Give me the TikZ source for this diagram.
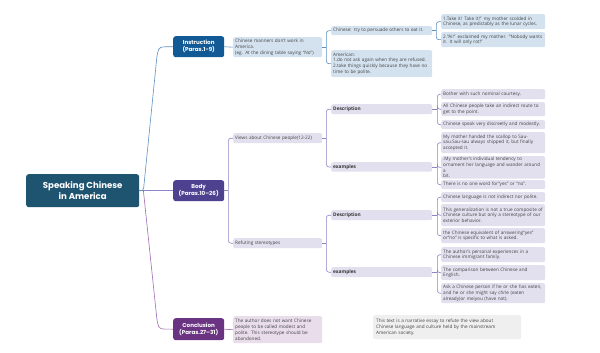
\documentclass[tikz,border=0pt]{standalone}
\usepackage{fontspec}
\setmainfont{Open Sans}
\newfontfamily\headfont{Poppins}
\usetikzlibrary{calc}
\definecolor{rootc}{HTML}{1F5470}
\definecolor{insc}{HTML}{115A96}
\definecolor{bodyc}{HTML}{4E418F}
\definecolor{concc}{HTML}{6B3482}
\definecolor{lblue}{HTML}{D3E2EE}
\definecolor{lpurp}{HTML}{E2E0EE}
\definecolor{lconc}{HTML}{E9DDEC}
\definecolor{lsumm}{HTML}{EFEFF0}
\definecolor{lnblue}{HTML}{5D8FC0}
\definecolor{lnpurp}{HTML}{8D85C5}
\definecolor{lnconc}{HTML}{A06AB0}
\definecolor{txt}{HTML}{444444}
\tikzset{
  base/.style={anchor=north west, rounded corners=2pt, inner xsep=2pt, inner ysep=0.8pt, align=left, text=txt, font=\fontsize{4.65}{5.75}\selectfont},
  leafB/.style={base, fill=lblue},
  leafP/.style={base, fill=lpurp},
  leafC/.style={base, fill=lconc},
  leafS/.style={base, fill=lsumm, inner xsep=3pt},
  lev2/.style={text width=85pt},
  lev3/.style={text width=97pt},
  lev4/.style={text width=100pt},
  subhead/.style={leafP, lev3, text=black!80, font=\fontsize{4.8}{5.75}\selectfont\bfseries},
  head/.style={anchor=north west, rounded corners=2.5pt, minimum width=51pt, inner sep=1pt, align=center, text=white, font=\headfont\bfseries\fontsize{5.6}{7.2}\selectfont},
  rootbox/.style={anchor=north west, rounded corners=2.5pt, fill=rootc, minimum width=113pt, minimum height=33pt, inner sep=1pt, align=center, text=white, font=\headfont\bfseries\fontsize{8.6}{11}\selectfont},
  lnB/.style={draw=lnblue, line width=0.6pt, rounded corners=2.5pt},
  lnP/.style={draw=lnpurp, line width=0.6pt, rounded corners=2.5pt},
  lnC/.style={draw=lnconc, line width=0.6pt, rounded corners=2.5pt},
}
\begin{document}
\begin{tikzpicture}[x=1pt,y=-1pt]
\useasboundingbox[fill=white] (0,0) rectangle (600,353);
% root and main branches
\node[rootbox] (root) at (26,174) {Speaking Chinese\\in America};
\node[head, fill=insc, minimum height=21pt] (ins) at (173,36) {Instruction\\(Paras.1-9)};
\node[head, fill=bodyc, minimum height=21pt] (body) at (173,180) {Body\\(Paras.10–26)};
\node[head, fill=concc, minimum height=22pt] (conc) at (173,318) {Conclusion\\(Paras.27–31)};
% instruction branch
\node[leafB, lev2, minimum height=20pt] (ins1) at (233,37) {Chinese manners don't work in\\America.\\(eg. At the dining table saying “No”)};
\node[leafB, lev3, minimum height=9pt] (ch) at (331,26) {Chinese: try to persuade others to eat it.};
\node[leafB, lev3, minimum height=27pt] (am) at (331,50) {American:\\1.do not ask again when they are refused.\\2.take things quickly because they have no\\time to be polite.};
\node[leafB, lev4, minimum height=15pt] (t1) at (441,14) {1.Take it! Take it!” my mother scolded in\\Chinese, as predictably as the lunar cycles.};
\node[leafB, lev4, minimum height=15pt] (t2) at (441,32) {2.“Ai!” exclaimed my mother. “Nobody wants\\it. It will only rot!”};
% body branch
\node[leafP, lev2, minimum height=10pt] (views) at (233,133) {Views about Chinese people(12-22)};
\node[leafP, lev2, minimum height=10pt] (refu) at (233,238) {Refuting stereotypes};
\node[subhead, minimum height=10pt] (d1) at (331,104) {Description};
\node[subhead, minimum height=9.5pt] (e1) at (331,162) {examples};
\node[leafP, lev4, minimum height=10pt] (l1) at (441,89) {Bother with such nominal courtesy.};
\node[leafP, lev4, minimum height=14pt] (l2) at (441,102) {All Chinese people take an indirect route to\\get to the point.};
\node[leafP, lev4, minimum height=9pt] (l3) at (441,120) {Chinese speak very discreetly and modestly.};
\node[leafP, lev4, minimum height=21pt] (l4) at (441,132) {My mother handed the scallop to Sau-\\sau.Sau-sau always shipped it, but finally\\accepted it.};
\node[leafP, lev4, minimum height=21pt] (l5) at (441,156) {.My mother's individual tendency to\\ornament her language and wander around a\\bit.};
\node[leafP, lev4, minimum height=9pt] (l6) at (441,180) {There is no one word for“yes” or “no”.};
\node[subhead, minimum height=10pt] (d2) at (331,210) {Description};
\node[subhead, minimum height=10pt] (e2) at (331,267) {examples};
\node[leafP, lev4, minimum height=10pt] (m1) at (441,192) {Chinese language is not indirect nor polite.};
\node[leafP, lev4, minimum height=22pt] (m2) at (441,204) {This generalization is not a true composite of\\Chinese culture but only a stereotype of our\\exterior behavior.};
\node[leafP, lev4, minimum height=15pt] (m3) at (441,228) {the Chinese equivalent of answering“yes”\\or“no” is specific to what is asked.};
\node[leafP, lev4, minimum height=15pt] (m4) at (441,247) {The author's personal experiences in a\\Chinese immigrant family.};
\node[leafP, lev4, minimum height=15pt] (m5) at (441,265) {The comparison between Chinese and\\English.};
\node[leafP, lev4, minimum height=20pt] (m6) at (441,283) {Ask a Chinese person if he or she has eaten,\\and he or she might say chrle (eaten\\already)or meiyou (have not).};
% conclusion branch
\node[leafC, lev2, minimum height=27pt] (conc1) at (233,316) {The author does not want Chinese\\people to be called modest and\\polite. This stereotype should be\\abandoned.};
\node[leafS, text width=142pt, minimum height=24pt] (summ) at (373,315) {This text is a narrative essay to refute the view about\\Chinese language and culture held by the mainstream\\American society.};
% root connectors
\coordinate (rj) at ($(root.east)+(4,0)$);
\draw[lnP] (root.east) -- (body.west);
\draw[lnB] (root.east) -- (rj) -- ([xshift=-16pt,yshift=-9pt]ins.west) .. controls ([xshift=-14pt]ins.west) .. (ins.west);
\draw[lnC] (rj) -- ([xshift=-16pt,yshift=9pt]conc.west) .. controls ([xshift=-14pt]conc.west) .. (conc.west);
% instruction connectors
\draw[lnB] (ins.east) -- (ins1.west);
\coordinate (j1) at ($(ins1.east)+(4,0)$);
\draw[lnB] (ins1.east) -- (j1);
\draw[lnB] (j1) |- (ch.west);
\draw[lnB] (j1) |- (am.west);
\coordinate (j2) at ($(ch.east)+(4,0)$);
\draw[lnB] (ch.east) -- (j2);
\draw[lnB] (j2) |- (t1.west);
\draw[lnB] (j2) |- (t2.west);
% body connectors
\coordinate (jb) at ($(body.east)+(4,0)$);
\draw[lnP] (body.east) -- (jb);
\draw[lnP] (jb) |- (views.west);
\draw[lnP] (jb) |- (refu.west);
\coordinate (jv) at ($(views.east)+(4,0)$);
\draw[lnP] (views.east) -- (jv);
\draw[lnP] (jv) |- (d1.west);
\draw[lnP] (jv) |- (e1.west);
\coordinate (jr) at ($(refu.east)+(4,0)$);
\draw[lnP] (refu.east) -- (jr);
\draw[lnP] (jr) |- (d2.west);
\draw[lnP] (jr) |- (e2.west);
\coordinate (jd1) at ($(d1.east)+(5,0)$);
\draw[lnP] (d1.east) -- (jd1);
\foreach \n in {l1,l2,l3} \draw[lnP] (jd1) |- (\n.west);
\coordinate (je1) at ($(e1.east)+(5,0)$);
\draw[lnP] (e1.east) -- (je1);
\foreach \n in {l4,l5,l6} \draw[lnP] (je1) |- (\n.west);
\coordinate (jd2) at ($(d2.east)+(5,0)$);
\draw[lnP] (d2.east) -- (jd2);
\foreach \n in {m1,m2,m3} \draw[lnP] (jd2) |- (\n.west);
\coordinate (je2) at ($(e2.east)+(5,0)$);
\draw[lnP] (e2.east) -- (je2);
\foreach \n in {m4,m5,m6} \draw[lnP] (je2) |- (\n.west);
% conclusion connector
\draw[lnC] (conc.east) -- (conc1.west);
\end{tikzpicture}
\end{document}
